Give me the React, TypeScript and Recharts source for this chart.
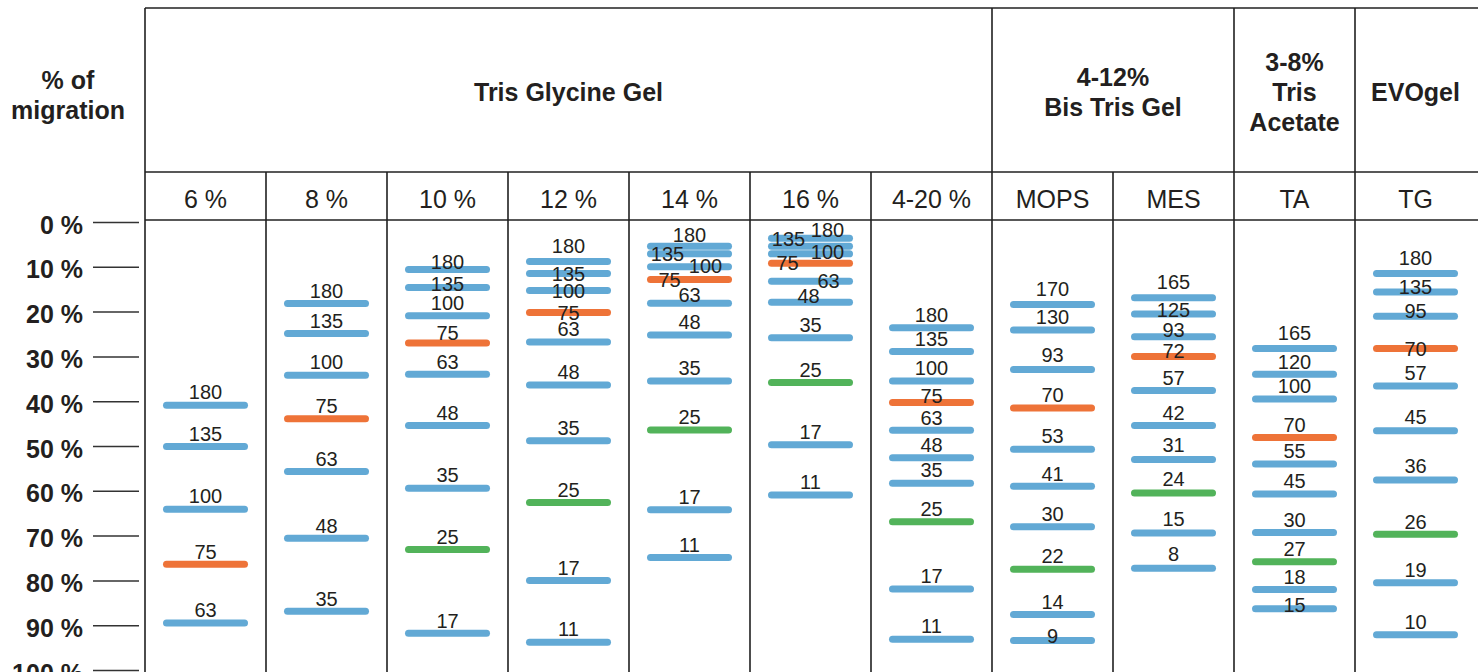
import React from 'react';
import { ComposedChart, Scatter, XAxis, YAxis, ReferenceLine } from 'recharts';

// ---------- chart data ----------
const laneLabels = ['6 %', '8 %', '10 %', '12 %', '14 %', '16 %', '4-20 %', 'MOPS', 'MES', 'TA', 'TG'];
const groupLabels = [['Tris Glycine Gel'], ['4-12%', 'Bis Tris Gel'], ['3-8%', 'Tris', 'Acetate'], ['EVOgel']];
const groupSpans = [7, 2, 1, 1];
const yTicks = [0, 10, 20, 30, 40, 50, 60, 70, 80, 90, 100];

const kDaTG6 = [180, 135, 100, 75, 63];
const migTG6 = [40.8, 50.0, 64.0, 76.3, 89.4];
const kDaTG8 = [180, 135, 100, 75, 63, 48, 35];
const migTG8 = [18.1, 24.8, 34.1, 43.8, 55.6, 70.5, 86.8];
const kDaTG10 = [180, 135, 100, 75, 63, 48, 35, 25, 17];
const migTG10 = [10.5, 14.5, 20.8, 26.9, 33.9, 45.3, 59.3, 73.0, 91.7];
const kDaTG12 = [180, 135, 100, 75, 63, 48, 35, 25, 17, 11];
const migTG12 = [8.7, 11.4, 15.2, 20.1, 26.7, 36.3, 48.7, 62.5, 79.9, 93.7];
const kDaTG14 = [180, 135, 100, 75, 63, 48, 35, 25, 17, 11];
const migTG14 = [5.3, 7.0, 9.9, 12.7, 18.0, 25.1, 35.4, 46.3, 64.1, 74.8];
const kDaTG16 = [180, 135, 100, 75, 63, 48, 35, 25, 17, 11];
const migTG16 = [3.5, 5.3, 7.0, 9.1, 13.1, 17.8, 25.7, 35.7, 49.6, 60.8];
const kDaTG420 = [180, 135, 100, 75, 63, 48, 35, 25, 17, 11];
const migTG420 = [23.5, 28.8, 35.4, 40.2, 46.4, 52.5, 58.2, 66.8, 81.8, 93.0];
const kDaMOPS = [170, 130, 93, 70, 53, 41, 30, 22, 14, 9];
const migMOPS = [18.3, 24.0, 32.8, 41.4, 50.6, 58.9, 67.9, 77.4, 87.5, 93.3];
const kDaMES = [165, 125, 93, 72, 57, 42, 31, 24, 15, 8];
const migMES = [16.8, 20.4, 25.5, 29.9, 37.5, 45.3, 52.9, 60.4, 69.3, 77.2];
const kDaTA = [165, 120, 100, 70, 55, 45, 30, 27, 18, 15];
const migTA = [28.1, 33.9, 39.4, 48.0, 53.9, 60.6, 69.2, 75.7, 81.9, 86.2];
const kDaEVO = [180, 135, 95, 70, 57, 45, 36, 26, 19, 10];
const migEVO = [11.4, 15.5, 20.9, 28.1, 36.5, 46.5, 57.5, 69.6, 80.4, 92.0];

// reference bands highlighted in each lane
const orangeBand = [75, 75, 75, 75, 75, 75, 75, 70, 72, 70, 70];
const greenBand = [null, null, 25, 25, 25, 25, 25, 22, 24, 27, 26];

const laneKDa = [kDaTG6, kDaTG8, kDaTG10, kDaTG12, kDaTG14, kDaTG16, kDaTG420, kDaMOPS, kDaMES, kDaTA, kDaEVO];
const laneMig = [migTG6, migTG8, migTG10, migTG12, migTG14, migTG16, migTG420, migMOPS, migMES, migTA, migEVO];

// ---------- layout / style ----------
const W = 1478;
const H = 672;
const FONT = '"Liberation Sans", Arial, Helvetica, sans-serif';
const INK = '#231f20';
const RULE = '#202020';
const BLUE = '#62a9d5';
const ORANGE = '#ee7338';
const GREEN = '#52b35a';
const BAND_W = 85;
const BAND_H = 7;
const HEADER_TOP = 8;
const GROUP_H = 164;
const LANE_H = 50.5;
const LABEL_DY = -13;
const LANE_AXIS = 'a';
const GROUP_AXIS = 'b';

// label nudges [dx, dy of text centre relative to band centre] for crowded lanes
const labelNudge: Record<string, [number, number]> = {
  '2:180': [0, -7.6], '2:135': [0, -4], '2:75': [0, -10.3],
  '3:180': [0, -15.6], '3:135': [0, 0], '3:100': [0, 0], '3:75': [0, 0],
  '4:180': [0, -11], '4:135': [-22, 0], '4:100': [16, -1], '4:75': [-20, 0], '4:63': [0, -8],
  '5:180': [17, -8.7], '5:135': [-22, -7.7], '5:100': [17, -2.3], '5:75': [-23, 0], '5:63': [18, 0], '5:48': [-2, -6.7],
  '6:75': [0, -7],
  '7:170': [0, -16], '7:93': [0, -14.3], '7:9': [0, -5],
  '8:165': [0, -16], '8:125': [0, -4], '8:93': [0, -7], '8:72': [0, -6],
  '8:31': [0, -14.4], '8:24': [0, -14.4], '8:15': [0, -14.4], '8:8': [0, -14.4],
  '9:165': [0, -15.7], '9:15': [0, -4.3],
  '10:180': [0, -16], '10:135': [0, -5], '10:95': [0, -5.3], '10:70': [0, 0], '10:45': [0, -14], '10:36': [0, -14.7],
};

const bands = laneKDa.flatMap((ks, lane) =>
  ks.map((k, i) => ({
    x: lane + 0.5,
    y: laneMig[lane][i],
    kDa: k,
    lane,
    color: k === orangeBand[lane] ? ORANGE : k === greenBand[lane] ? GREEN : BLUE,
  }))
);

const laneTicks = laneLabels.map((_, i) => i + 0.5);
const groupStarts = groupSpans.map((_, i) => groupSpans.slice(0, i).reduce((a, b) => a + b, 0));
const groupTicks = groupSpans.map((s, i) => groupStarts[i] + s / 2);
const boundaries = laneLabels.map((_, i) => i);

const Band = (p: any) => {
  const { cx, cy, payload } = p;
  return (
    <rect x={cx - BAND_W / 2} y={cy - BAND_H / 2} width={BAND_W} height={BAND_H} rx={BAND_H / 2} fill={payload.color} />
  );
};

const BandLabel = (p: any) => {
  const { cx, cy, payload } = p;
  const [dx, dy] = labelNudge[`${payload.lane}:${payload.kDa}`] ?? [0, LABEL_DY];
  return (
    <text x={cx + dx} y={cy + dy + 7.2} textAnchor="middle" fontSize={20} fontFamily={FONT} fill={INK}>
      {payload.kDa}
    </text>
  );
};

const YTick = (p: any) => {
  const { x, y, payload } = p;
  return (
    <g>
      <text x={x} y={y + 11} textAnchor="end" fontSize={25} fontWeight="bold" fontFamily={FONT} fill={INK}>
        {`${payload.value} %`}
      </text>
      <line x1={x + 10} x2={x + 56} y1={y} y2={y} stroke="#333" strokeWidth={1.5} />
    </g>
  );
};

const LaneTick = (p: any) => {
  const { x, y, payload } = p;
  return (
    <text x={x} y={y - 14.5} textAnchor="middle" fontSize={25} fontFamily={FONT} fill={INK}>
      {laneLabels[Math.floor(payload.value)]}
    </text>
  );
};

const GroupTick = (p: any) => {
  const { x, y, index } = p;
  const lines = groupLabels[index] || [];
  const mid = y - 71.5;
  return (
    <text textAnchor="middle" fontSize={25} fontWeight="bold" fontFamily={FONT} fill={INK}>
      {lines.map((t, i) => (
        <tspan key={i} x={x} y={mid + (i - (lines.length - 1) / 2) * 30}>
          {t}
        </tspan>
      ))}
    </text>
  );
};

const YTitle = (p: any) => {
  const vb = p.viewBox || { x: 0, y: 222.5, width: 145 };
  const cx = vb.x + vb.width * 0.469;
  return (
    <text textAnchor="middle" fontSize={25} fontWeight="bold" fontFamily={FONT} fill={INK}>
      <tspan x={cx} y={vb.y - 134}>% of</tspan>
      <tspan x={cx} y={vb.y - 104}>migration</tspan>
    </text>
  );
};

const HeaderRules = (p: any) => {
  const { x1, y1 } = p;
  return (
    <g stroke={RULE} strokeWidth={1.6}>
      <line x1={x1} x2={W} y1={HEADER_TOP} y2={HEADER_TOP} />
      <line x1={x1} x2={W} y1={HEADER_TOP + GROUP_H} y2={HEADER_TOP + GROUP_H} />
      <line x1={x1} x2={W} y1={y1 - 2.5} y2={y1 - 2.5} />
    </g>
  );
};

const makeDivider = (b: number) => (p: any) => {
  const top = groupStarts.includes(b) ? HEADER_TOP : HEADER_TOP + GROUP_H;
  return <line x1={p.x1} x2={p.x1} y1={top} y2={H} stroke={RULE} strokeWidth={1.6} />;
};

export default function App() {
  return (
    <div style={{ position: 'absolute', left: 0, top: 0, width: W, height: H, background: '#fff' }}>
      <ComposedChart width={W} height={H} margin={{ top: HEADER_TOP, right: 2, bottom: 1.5, left: 0 }}>
        <XAxis
          xAxisId={GROUP_AXIS}
          orientation="top"
          type="number"
          dataKey="x"
          domain={[0, 11]}
          allowDataOverflow
          ticks={groupTicks}
          interval={0}
          height={GROUP_H}
          axisLine={false}
          tickLine={false}
          tickSize={0}
          tickMargin={0}
          tick={<GroupTick />}
        />
        <XAxis
          xAxisId={LANE_AXIS}
          orientation="top"
          type="number"
          dataKey="x"
          domain={[0, 11]}
          allowDataOverflow
          ticks={laneTicks}
          interval={0}
          height={LANE_H}
          axisLine={false}
          tickLine={false}
          tickSize={0}
          tickMargin={0}
          tick={<LaneTick />}
        />
        <YAxis
          type="number"
          dataKey="y"
          domain={[0, 100]}
          reversed
          ticks={yTicks}
          interval={0}
          width={145}
          axisLine={false}
          tickLine={false}
          tickSize={52}
          tickMargin={10}
          tick={<YTick />}
          label={YTitle}
        />
        <ReferenceLine xAxisId={LANE_AXIS} y={0} shape={HeaderRules} />
        {boundaries.map((b) => (
          <ReferenceLine key={b} xAxisId={LANE_AXIS} x={b} shape={makeDivider(b)} />
        ))}
        <Scatter xAxisId={LANE_AXIS} data={bands} shape={<Band />} isAnimationActive={false} />
        <Scatter xAxisId={LANE_AXIS} data={bands} shape={<BandLabel />} isAnimationActive={false} />
      </ComposedChart>
    </div>
  );
}
